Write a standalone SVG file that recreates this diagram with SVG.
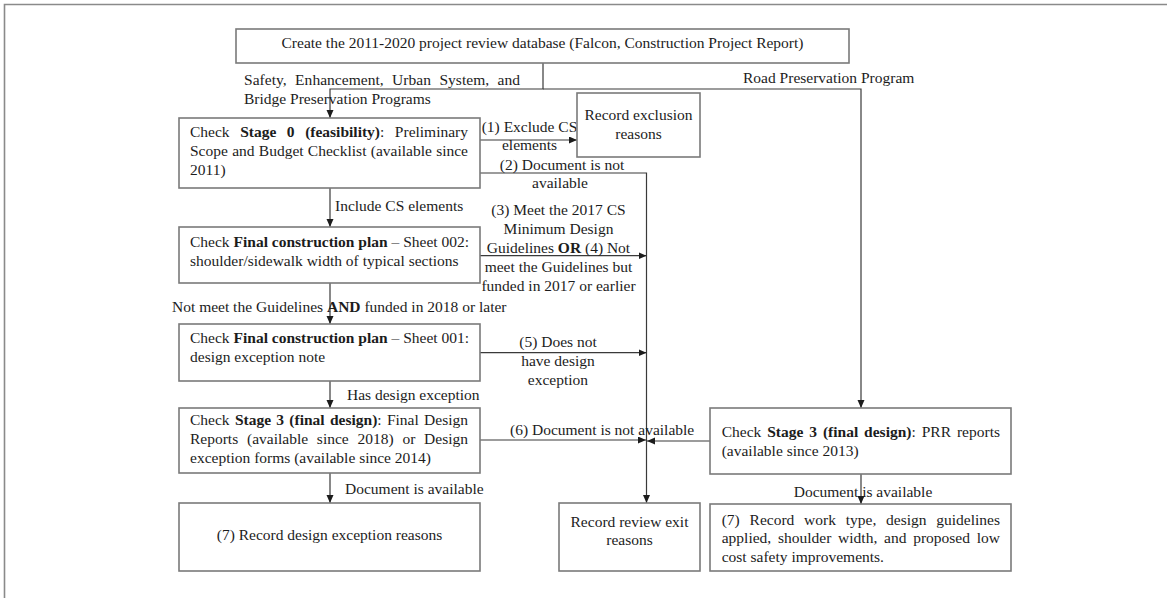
<svg xmlns="http://www.w3.org/2000/svg" width="1167" height="598" viewBox="0 0 1167 598">
  <defs>
    <style>
      text { font-family: "Liberation Serif", "Times New Roman", serif; font-size: 15.5px; fill: #1c1c1c; }
      .c { text-anchor: middle; }
      .b { font-weight: bold; }
      .box { fill: #ffffff; stroke: #7a7a7a; stroke-width: 1.6; }
      .ln { fill: none; stroke: #3a3a3a; stroke-width: 1.2; }
      .frame { fill: none; stroke: #8a8a8a; stroke-width: 1.6; }
    </style>
    <marker id="ah" markerUnits="userSpaceOnUse" markerWidth="9" markerHeight="8" refX="8" refY="3.5" orient="auto">
      <path d="M0,0 L8,3.5 L0,7 z" fill="#1c1c1c"/>
    </marker>
  </defs>
  <rect width="1167" height="598" fill="#ffffff"/>
  <path class="frame" d="M4.5,598 V4.5 H1167"/>

  <g id="connectors">
    <polyline class="ln" points="543,63 543,89 330,89 330,118" marker-end="url(#ah)"/>
    <polyline class="ln" points="543,89 861,89 861,408" marker-end="url(#ah)"/>
    <path class="ln" d="M480,140 H577" marker-end="url(#ah)"/>
    <path class="ln" d="M480,173 H646.5 V503" marker-end="url(#ah)"/>
    <path class="ln" d="M330,188 V227" marker-end="url(#ah)"/>
    <path class="ln" d="M480,255.7 H646.5" marker-end="url(#ah)"/>
    <path class="ln" d="M330,283 V324" marker-end="url(#ah)"/>
    <path class="ln" d="M480,352.7 H646.5" marker-end="url(#ah)"/>
    <path class="ln" d="M330,381 V408" marker-end="url(#ah)"/>
    <path class="ln" d="M480,440 H646" marker-end="url(#ah)"/>
    <path class="ln" d="M710,441 H647" marker-end="url(#ah)"/>
    <path class="ln" d="M330,473 V503" marker-end="url(#ah)"/>
    <path class="ln" d="M861,474 V504" marker-end="url(#ah)"/>
  </g>

  <g id="connector-labels">
    <text x="244" y="85" word-spacing="4.5" textLength="276" lengthAdjust="spacing">Safety, Enhancement, Urban System, and</text>
    <text x="244" y="104">Bridge Preservation Programs</text>
    <text x="743" y="83">Road Preservation Program</text>
    <text class="c" x="529.5" y="132">(1) Exclude CS</text>
    <text class="c" x="529.5" y="150">elements</text>
    <text class="c" x="562" y="170">(2) Document is not</text>
    <text class="c" x="560" y="188">available</text>
    <text x="335" y="210.7">Include CS elements</text>
    <text class="c" x="558.5" y="215">(3) Meet the 2017 CS</text>
    <text class="c" x="558.5" y="234">Minimum Design</text>
    <text class="c" x="558.5" y="252.7">Guidelines <tspan class="b">OR</tspan> (4) Not</text>
    <text class="c" x="558.5" y="272">meet the Guidelines but</text>
    <text class="c" x="558.5" y="291">funded in 2017 or earlier</text>
    <text x="172" y="311.7">Not meet the Guidelines <tspan class="b">AND</tspan> funded in 2018 or later</text>
    <text class="c" x="558" y="347">(5) Does not</text>
    <text class="c" x="558" y="366">have design</text>
    <text class="c" x="558" y="385">exception</text>
    <text x="347" y="400">Has design exception</text>
    <text x="510" y="435">(6) Document is not available</text>
    <text x="345" y="494">Document is available</text>
    <text class="c" x="863" y="497">Document is available</text>
  </g>

  <g id="node-create-db">
    <rect class="box" x="236" y="29" width="613" height="34"/>
    <text class="c" x="542.5" y="48">Create the 2011-2020 project review database (Falcon, Construction Project Report)</text>
  </g>

  <g id="node-stage0">
    <rect class="box" x="179" y="118" width="301" height="70"/>
    <text x="190" y="137" word-spacing="6.7" textLength="278" lengthAdjust="spacing">Check <tspan class="b">Stage 0 (feasibility)</tspan>: Preliminary</text>
    <text x="190" y="156" word-spacing="0.4" textLength="278" lengthAdjust="spacing">Scope and Budget Checklist (available since</text>
    <text x="190" y="175">2011)</text>
  </g>

  <g id="node-record-exclusion">
    <rect class="box" x="577" y="93" width="123" height="64"/>
    <text class="c" x="638.5" y="120">Record exclusion</text>
    <text class="c" x="638.5" y="139">reasons</text>
  </g>

  <g id="node-sheet002">
    <rect class="box" x="179" y="227" width="301" height="56"/>
    <text x="190" y="247">Check <tspan class="b">Final construction plan</tspan> – Sheet 002:</text>
    <text x="190" y="266">shoulder/sidewalk width of typical sections</text>
  </g>

  <g id="node-sheet001">
    <rect class="box" x="179" y="324" width="301" height="57"/>
    <text x="190" y="343">Check <tspan class="b">Final construction plan</tspan> – Sheet 001:</text>
    <text x="190" y="362">design exception note</text>
  </g>

  <g id="node-stage3-left">
    <rect class="box" x="179" y="408" width="301" height="65"/>
    <text x="190" y="425" word-spacing="1.4" textLength="278" lengthAdjust="spacing">Check <tspan class="b">Stage 3 (final design)</tspan>: Final Design</text>
    <text x="190" y="444" word-spacing="4.9" textLength="278" lengthAdjust="spacing">Reports (available since 2018) or Design</text>
    <text x="190" y="463">exception forms (available since 2014)</text>
  </g>

  <g id="node-record-design-exception">
    <rect class="box" x="179" y="503" width="301" height="68"/>
    <text class="c" x="329.5" y="540">(7) Record design exception reasons</text>
  </g>

  <g id="node-record-review-exit">
    <rect class="box" x="559" y="503" width="141" height="68"/>
    <text class="c" x="629.5" y="527">Record review exit</text>
    <text class="c" x="629.5" y="545">reasons</text>
  </g>

  <g id="node-stage3-prr">
    <rect class="box" x="710" y="408" width="301" height="66"/>
    <text x="721.7" y="437" word-spacing="2" textLength="278.3" lengthAdjust="spacing">Check <tspan class="b">Stage 3 (final design)</tspan>: PRR reports</text>
    <text x="721.7" y="456">(available since 2013)</text>
  </g>

  <g id="node-record-work">
    <rect class="box" x="710" y="504" width="301" height="67"/>
    <text x="721.7" y="524.5" word-spacing="5.9" textLength="278.3" lengthAdjust="spacing">(7) Record work type, design guidelines</text>
    <text x="721.7" y="543" word-spacing="2.9" textLength="278.3" lengthAdjust="spacing">applied, shoulder width, and proposed low</text>
    <text x="721.7" y="561.5">cost safety improvements.</text>
  </g>
</svg>
